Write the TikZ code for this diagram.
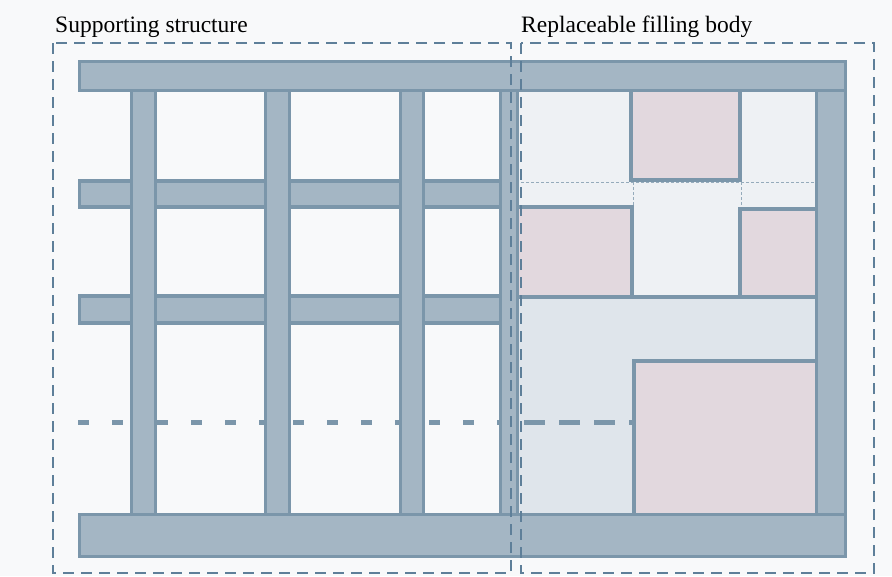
\documentclass[tikz,border=0pt]{standalone}
\usepackage{fontspec}
\setmainfont{Liberation Serif}
\usetikzlibrary{positioning}
\definecolor{paper}{HTML}{F8F9FA}
\definecolor{framefill}{HTML}{A4B6C4}
\definecolor{frameedge}{HTML}{7B96AA}
\definecolor{cellfill}{HTML}{EEF1F4}
\definecolor{lowfill}{HTML}{DFE5EB}
\definecolor{pinkfill}{HTML}{E2D8DE}
\definecolor{zoneline}{HTML}{5E7F99}
\tikzset{
beam/.style= {draw=frameedge,fill=framefill,line width=3.5pt},
pinkbox/.style= {draw=frameedge,fill=pinkfill,line width=4pt},
gridline/.style= {draw=frameedge,line width=4pt},
thindash/.style= {draw=frameedge!80,line width=0.8pt,dash pattern=on 3pt off 2pt},
zoneframe/.style= {draw=zoneline,line width=2.2pt,dash pattern=on 11pt off 7pt},
zonelabel/.style= {anchor=base west,inner sep=0pt,font=\fontsize{23.5}{28}\selectfont}
}

\begin{document}
\begin{tikzpicture}[x=1pt,y=-1pt]

\fill[paper] (0,0) rectangle (892,576);
\useasboundingbox (0,0) rectangle (892,576);

% the filling body: cells and inserts
\fill[cellfill] (519,92) rectangle (815,297);
\fill[lowfill] (519,297) rectangle (815,513);
\draw[thindash] (521,182) -- (815,182);
\draw[thindash] (633,182) -- (633,207);
\draw[thindash] (741,182) -- (741,209);
\draw[pinkbox] (631,88) rectangle (740,180);
\draw[pinkbox] (515,207) rectangle (632,297);
\draw[pinkbox] (740,209) rectangle (819,297);
\draw[pinkbox] (634,361) rectangle (819,517);
\draw[gridline] (517,297) -- (817,297);

% the dashed beam (left part and right part)
\draw[frameedge,line width=5pt,dash pattern=on 11pt off 23pt,dash phase=0pt] (78,422) -- (155,422);
\draw[frameedge,line width=5pt,dash pattern=on 11pt off 23pt] (157,422) -- (499,422);
\draw[frameedge,line width=5pt,dash pattern=on 21pt off 14pt] (524,422) -- (632,422);

% the middle beams of the supporting structure
\foreach \ytop/\ybot in {181/207,296/323}
  \draw[beam] (79.5,\ytop) rectangle (517,\ybot);

% the posts
\foreach \xl/\xr in {131.5/155.5,265.5/289.5,400.5/423.5,500.5/517.5,816.5/845.5}
  \draw[beam] (\xl,90) rectangle (\xr,515);

% top and bottom beams
\draw[beam] (79.5,61.5) rectangle (845.5,90.5);
\draw[beam] (79.5,514.5) rectangle (845.5,556.5);

% the two zones
\draw[zoneframe] (53,43) rectangle (511,573);
\draw[zoneframe] (521,43) rectangle (874,573);
\node[zonelabel] (lsupport) at (55,32) {Supporting structure};
\node[zonelabel] (lfilling) at (521,32) {Replaceable filling body};

\end{tikzpicture}
\end{document}
